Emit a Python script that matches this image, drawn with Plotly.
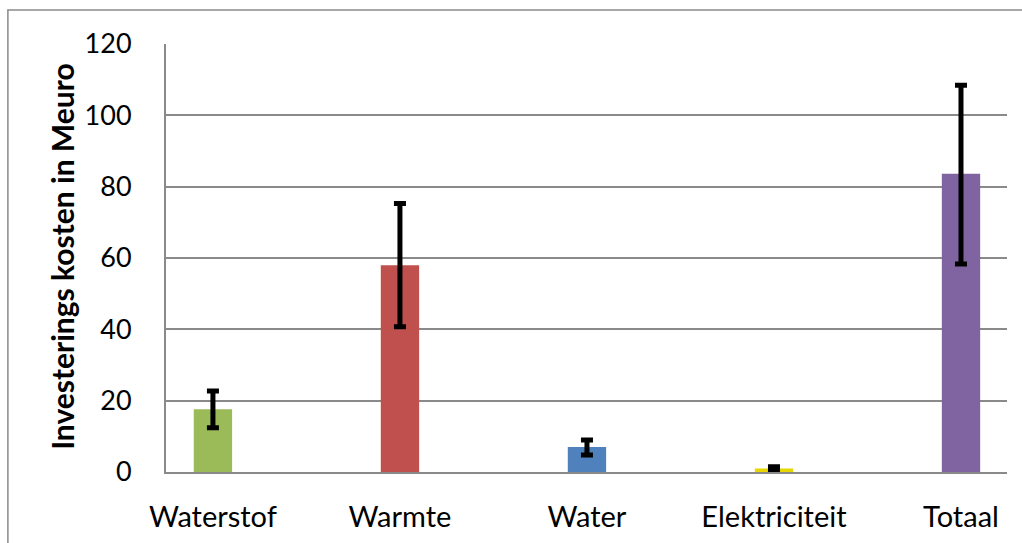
import plotly.graph_objects as go

# Investment costs per energy carrier (million euro)
categories = ["Waterstof", "Warmte", "Water", "Elektriciteit", "Totaal"]
costs = [17.6, 58.0, 7.0, 1.0, 83.6]
err_plus = [5.1, 17.3, 2.0, 0.5, 24.8]
err_minus = [5.2, 17.3, 2.2, 0.3, 25.3]
bar_colors = ["#9BBB59", "#C0504D", "#4F81BD", "#E8D600", "#8064A2"]
y_ticks = [0, 20, 40, 60, 80, 100, 120]

FONT = "Lato"
GRID = "#8a8a8a"

fig = go.Figure(
    go.Bar(
        x=list(range(len(categories))),
        y=costs,
        width=0.205,
        marker=dict(color=bar_colors, line=dict(width=0)),
        error_y=dict(
            type="data",
            symmetric=False,
            array=err_plus,
            arrayminus=err_minus,
            color="black",
            thickness=5,
            width=6,
        ),
    )
)

fig.update_layout(
    width=1022,
    height=543,
    margin=dict(l=166, r=15, t=44, b=71, autoexpand=False),
    paper_bgcolor="white",
    plot_bgcolor="white",
    showlegend=False,
    font=dict(family=FONT, size=25, color="black"),
    xaxis=dict(
        range=[-0.251, 4.246],
        tickmode="array",
        tickvals=list(range(len(categories))),
        ticktext=categories,
        tickfont=dict(family=FONT, size=29, color="black"),
        showgrid=False,
        showline=True,
        linecolor=GRID,
        linewidth=2,
        ticks="",
        ticklabelstandoff=18,
        zeroline=False,
        automargin=False,
    ),
    yaxis=dict(
        range=[0, 120],
        tickmode="array",
        tickvals=y_ticks,
        tickfont=dict(family=FONT, size=27, color="black"),
        showgrid=True,
        gridcolor=GRID,
        gridwidth=1.5,
        showline=True,
        linecolor=GRID,
        linewidth=2,
        ticks="",
        ticklabelstandoff=27,
        zeroline=False,
        automargin=False,
    ),
    annotations=[
        dict(
            text="<b>Investerings kosten in Meuro</b>",
            textangle=-90,
            xref="paper",
            yref="paper",
            x=-0.1237,
            y=0.505,
            xanchor="center",
            yanchor="middle",
            showarrow=False,
            font=dict(family=FONT, size=30, color="black"),
        )
    ],
    shapes=[
        # chart-area frame
        dict(
            type="rect",
            xref="paper",
            yref="paper",
            x0=-0.188,
            x1=1.2,
            y0=-0.3,
            y1=1.0794,
            line=dict(color=GRID, width=1.5),
            fillcolor="rgba(0,0,0,0)",
            layer="below",
        )
    ],
)

fig.write_html("out.html")
